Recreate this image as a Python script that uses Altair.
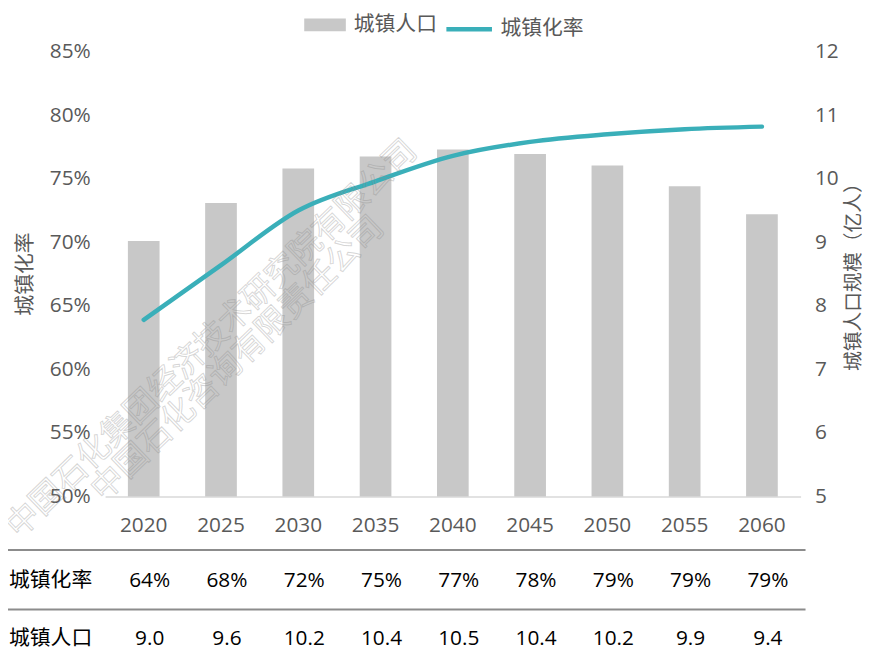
import altair as alt
import pandas as pd

years = ["2020", "2025", "2030", "2035", "2040", "2045", "2050", "2055", "2060"]
urban_rate = [63.9, 68.2, 72.5, 74.8, 76.8, 77.9, 78.5, 78.9, 79.1]          # %
urban_pop = [9.02, 9.62, 10.16, 10.35, 10.46, 10.39, 10.21, 9.88, 9.44]       # 亿人
rate_labels = ["64%", "68%", "72%", "75%", "77%", "78%", "79%", "79%", "79%"]
pop_labels = ["9.0", "9.6", "10.2", "10.4", "10.5", "10.4", "10.2", "9.9", "9.4"]
row_labels = ["城镇化率", "城镇人口"]
series_names = ["城镇人口", "城镇化率"]
left_ticks = [50, 55, 60, 65, 70, 75, 80, 85]
right_ticks = [5, 6, 7, 8, 9, 10, 11, 12]
watermark = ["中国石化集团经济技术研究院有限公司", "中国石化咨询有限责任公司"]

GREY_TXT = "#595959"
BAR_C = "#c8c8c8"
LINE_C = "#3aafb9"
CJK = "Noto Sans CJK SC"
NUM = "Open Sans"

df = pd.DataFrame({
    "year": years,
    "rate": urban_rate,
    "pop": urban_pop,
    "rate_label": rate_labels,
    "pop_label": pop_labels,
    "s_pop": [series_names[0]] * len(years),
    "s_rate": [series_names[1]] * len(years),
})

x_enc = alt.X(
    "year:N",
    sort=years,
    scale=alt.Scale(paddingInner=0.59, paddingOuter=0.295),
    axis=alt.Axis(
        title=None, labelFontSize=21, labelFont=NUM, labelColor=GREY_TXT,
        labelAngle=0, labelBaseline="middle", labelPadding=29,
        ticks=False, tickSize=0, domainColor="#d9d9d9", domainWidth=1.5, grid=False,
    ),
)

base = alt.Chart(df)

bars = base.mark_bar().encode(
    x=x_enc,
    y=alt.Y(
        "pop:Q",
        scale=alt.Scale(domain=[5, 12], zero=False, nice=False),
        axis=alt.Axis(
            orient="right", values=right_ticks, grid=False, domain=False, ticks=False,
            labelFontSize=21, labelFont=NUM, labelColor=GREY_TXT, labelPadding=14,
            title="城镇人口规模（亿人）", titleFont=CJK, titleFontSize=20,
            titleFontWeight="normal", titleColor=GREY_TXT, titleAngle=270,
            titleX=53, titleY=222, titleAlign="center", titleBaseline="middle",
        ),
    ),
    y2=alt.datum(5),
    fill=alt.Fill(
        "s_pop:N",
        scale=alt.Scale(domain=[series_names[0]], range=[BAR_C]),
        legend=alt.Legend(
            title=None, orient="none", legendX=201, legendY=-48, padding=0,
            symbolType="M-1,-0.31L1,-0.31L1,0.31L-1,0.31Z", symbolSize=1764,
            symbolStrokeWidth=0, labelFontSize=21, labelFont=CJK,
            labelColor=GREY_TXT, labelOffset=8,
        ),
    ),
)

line = base.mark_line(interpolate="monotone", strokeWidth=4.5, strokeCap="round").encode(
    x=x_enc,
    y=alt.Y(
        "rate:Q",
        scale=alt.Scale(domain=[50, 85], zero=False, nice=False),
        axis=alt.Axis(
            orient="left", values=left_ticks, labelExpr="datum.value + '%'",
            grid=False, domain=False, ticks=False,
            labelFontSize=21, labelFont=NUM, labelColor=GREY_TXT, labelPadding=15,
            title="城镇化率", titleFont=CJK, titleFontSize=21, titleFontWeight="normal",
            titleColor=GREY_TXT, titleAngle=270, titleX=-80, titleY=224,
            titleAlign="center", titleBaseline="middle",
        ),
    ),
    stroke=alt.Stroke(
        "s_rate:N",
        scale=alt.Scale(domain=[series_names[1]], range=[LINE_C]),
        legend=alt.Legend(
            title=None, orient="none", legendX=342, legendY=-48, padding=0,
            symbolType="stroke", symbolSize=2116, symbolStrokeWidth=4.5,
            labelFontSize=21, labelFont=CJK, labelColor=GREY_TXT, labelOffset=6,
        ),
    ),
)

row1 = base.mark_text(fontSize=21, font=NUM, color="#000000", baseline="middle", dx=6).encode(
    x=alt.X("year:N", sort=years), y=alt.value(534), text="rate_label:N"
)
row2 = base.mark_text(fontSize=21, font=NUM, color="#000000", baseline="middle", dx=6).encode(
    x=alt.X("year:N", sort=years), y=alt.value(593), text="pop_label:N"
)

lab1 = alt.Chart(pd.DataFrame({"t": [row_labels[0]]})).mark_text(
    fontSize=21, font=CJK, color="#000000", align="left", baseline="middle"
).encode(text="t:N", x=alt.value(-97), y=alt.value(534))
lab2 = alt.Chart(pd.DataFrame({"t": [row_labels[1]]})).mark_text(
    fontSize=21, font=CJK, color="#000000", align="left", baseline="middle"
).encode(text="t:N", x=alt.value(-97), y=alt.value(593))

rules_df = pd.DataFrame({"k": [0]})
rule1 = alt.Chart(rules_df).mark_rule(stroke="#8c8c8c", strokeWidth=2).encode(
    x=alt.value(-98), x2=alt.value(707), y=alt.value(503)
)
rule2 = alt.Chart(rules_df).mark_rule(stroke="#8c8c8c", strokeWidth=2).encode(
    x=alt.value(-98), x2=alt.value(707), y=alt.value(563)
)

wm_style = dict(
    fontSize=33, font=CJK, fill="#ffffff", fillOpacity=0.0, stroke="#8a8a8a",
    strokeOpacity=0.35, strokeWidth=1.0, angle=316, align="center", baseline="middle",
)
wm1 = alt.Chart(pd.DataFrame({"t": [watermark[0]]})).mark_text(**wm_style).encode(
    text="t:N", x=alt.value(108), y=alt.value(290)
)
wm2 = alt.Chart(pd.DataFrame({"t": [watermark[1]]})).mark_text(**wm_style).encode(
    text="t:N", x=alt.value(134), y=alt.value(310)
)

chart = alt.layer(
    bars, line, row1, row2, lab1, lab2, rule1, rule2, wm1, wm2
).resolve_scale(
    y="independent", fill="independent", stroke="independent"
).properties(
    width=702, height=449,
    padding={"left": 98, "top": 41, "right": 62, "bottom": 162},
    autosize=alt.AutoSizeParams(type="none"),
).configure_view(stroke=None)

chart.save("out.html", embed_options={"renderer": "svg", "actions": False})
